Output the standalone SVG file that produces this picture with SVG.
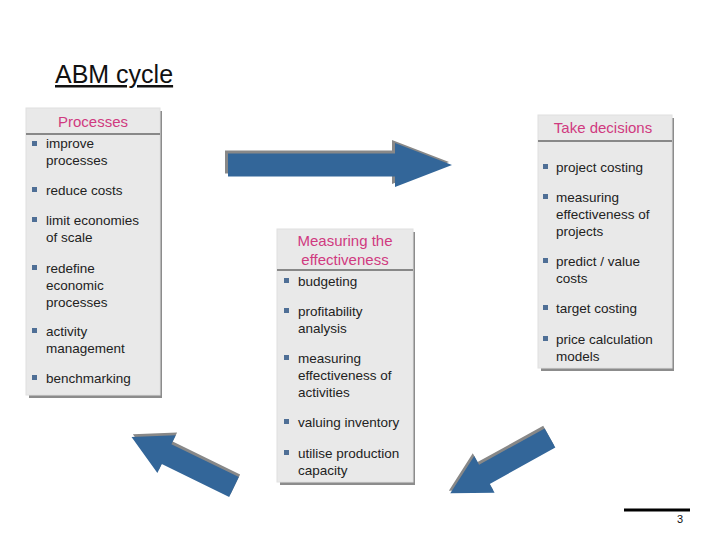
<svg xmlns="http://www.w3.org/2000/svg" width="720" height="540" viewBox="0 0 720 540">
<style>
text{font-family:"Liberation Sans",Arial,sans-serif;}
.b{font-size:13.5px;fill:#222}
.h{font-size:15px;fill:#d03a80;text-anchor:middle}
.box{fill:#e9e9e9;stroke:#e0e0e0}
.sh{fill:#8c8c8c}
.arr{fill:#336699}
.as{fill:#888}
.bul{fill:#4f6f96}
</style>
<defs>
<path id="ha" d="M0,-11.5 L167,-11.5 L167,-22 L224,0 L167,22 L167,11.5 L0,11.5Z"/>
<path id="da" d="M0,-11 L75,-11 L75,-21 L114,0 L75,21 L75,11 L0,11Z"/>
<rect id="bl" width="5" height="5"/>
</defs>
<rect width="720" height="540" fill="#fff"/>
<text x="55" y="83" font-size="25" fill="#111" text-decoration="underline">ABM cycle</text>
<g id="connectors">
<g transform="translate(228,165)"><use href="#ha" class="as" transform="translate(-3,-3)"/><use href="#ha" class="arr"/></g>
<g transform="translate(550,438) rotate(151)"><use href="#da" class="as" transform="translate(0,3)"/><use href="#da" class="arr"/></g>
<g transform="translate(234,487) rotate(206)"><use href="#da" class="as" transform="translate(0,3)"/><use href="#da" class="arr"/></g>
</g>
<g id="processes">
<rect x="29" y="111" width="133" height="287" class="sh"/>
<rect x="26" y="108" width="134" height="287" class="box"/>
<line x1="26" y1="134" x2="160" y2="134" stroke="#888" stroke-width="2"/>
<text x="93" y="127" class="h">Processes</text>
<use href="#bl" class="bul" x="32" y="141"/><text class="b" x="46" y="148">improve</text><text class="b" x="46" y="165">processes</text>
<use href="#bl" class="bul" x="32" y="187"/><text class="b" x="46" y="195">reduce costs</text>
<use href="#bl" class="bul" x="32" y="217"/><text class="b" x="46" y="225">limit economies</text><text class="b" x="46" y="242">of scale</text>
<use href="#bl" class="bul" x="32" y="265"/><text class="b" x="46" y="273">redefine</text><text class="b" x="46" y="290">economic</text><text class="b" x="46" y="307">processes</text>
<use href="#bl" class="bul" x="32" y="328"/><text class="b" x="46" y="336">activity</text><text class="b" x="46" y="353">management</text>
<use href="#bl" class="bul" x="32" y="375"/><text class="b" x="46" y="383">benchmarking</text>
</g>
<g id="decisions">
<rect x="541" y="118" width="133" height="253" class="sh"/>
<rect x="538" y="115" width="134" height="253" class="box"/>
<line x1="538" y1="141" x2="672" y2="141" stroke="#888" stroke-width="2"/>
<text x="603" y="133" class="h">Take decisions</text>
<use href="#bl" class="bul" x="543" y="164"/><text class="b" x="556" y="172">project costing</text>
<use href="#bl" class="bul" x="543" y="194"/><text class="b" x="556" y="202">measuring</text><text class="b" x="556" y="219">effectiveness of</text><text class="b" x="556" y="236">projects</text>
<use href="#bl" class="bul" x="543" y="258"/><text class="b" x="556" y="266">predict / value</text><text class="b" x="556" y="283">costs</text>
<use href="#bl" class="bul" x="543" y="305"/><text class="b" x="556" y="313">target costing</text>
<use href="#bl" class="bul" x="543" y="336"/><text class="b" x="556" y="344">price calculation</text><text class="b" x="556" y="361">models</text>
</g>
<g id="measuring">
<rect x="280" y="232" width="135" height="253" class="sh"/>
<rect x="277" y="229" width="136" height="253" class="box"/>
<line x1="277" y1="270" x2="413" y2="270" stroke="#888" stroke-width="2"/>
<text x="345" y="246" class="h">Measuring the</text><text x="345" y="265" class="h">effectiveness</text>
<use href="#bl" class="bul" x="284" y="278"/><text class="b" x="298" y="286">budgeting</text>
<use href="#bl" class="bul" x="284" y="308"/><text class="b" x="298" y="316">profitability</text><text class="b" x="298" y="333">analysis</text>
<use href="#bl" class="bul" x="284" y="355"/><text class="b" x="298" y="363">measuring</text><text class="b" x="298" y="380">effectiveness of</text><text class="b" x="298" y="397">activities</text>
<use href="#bl" class="bul" x="284" y="419"/><text class="b" x="298" y="427">valuing inventory</text>
<use href="#bl" class="bul" x="284" y="450"/><text class="b" x="298" y="458">utilise production</text><text class="b" x="298" y="475">capacity</text>
</g>
<line x1="624" y1="510" x2="690" y2="510" stroke="#000" stroke-width="3"/>
<text x="677" y="523" font-size="11" fill="#111">3</text>
</svg>
